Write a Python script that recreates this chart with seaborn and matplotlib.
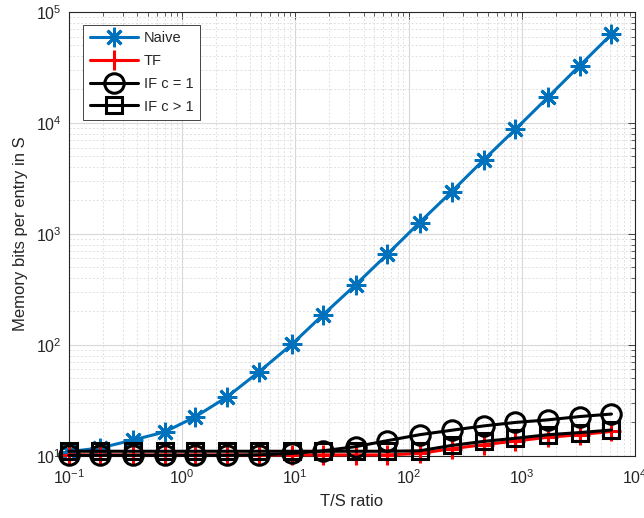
import numpy as np
import pandas as pd
import matplotlib
matplotlib.use("Agg")
import matplotlib.pyplot as plt
import seaborn as sns
from matplotlib.ticker import LogLocator, NullFormatter

# ---- data ----
ts_ratio = [0.1, 0.19, 0.37, 0.7, 1.3, 2.5, 4.8, 9.3, 17.5, 34, 65, 125,
            240, 460, 880, 1700, 3250, 6200]
naive = [10.9, 11.8, 13.9, 16.4, 22.4, 34, 57.4, 101, 186, 347, 656, 1265,
         2400, 4640, 8770, 17000, 32800, 63000]
tf = [10.2, 10.2, 10.2, 10.2, 10.2, 10.2, 10.2, 10.2, 10.2, 10.2, 10.2, 10.5,
      11.6, 12.6, 13.6, 14.7, 15.5, 16.6]
if_c1 = [10.1, 10.1, 10.1, 10.1, 10.1, 10.1, 10.2, 10.5, 11.1, 12.1, 13.7, 15.5,
         17.0, 18.6, 20.0, 21.1, 22.6, 23.8]
if_cgt1 = [11.0, 11.0, 11.0, 11.0, 11.0, 11.0, 11.0, 11.0, 11.0, 11.0, 11.0, 11.1,
           12.4, 13.5, 14.4, 15.5, 16.2, 17.1]

series_names = ["Naive", "TF", "IF c = 1", "IF c > 1"]
series_vals = [naive, tf, if_c1, if_cgt1]

df = pd.DataFrame({
    "x": ts_ratio * 4,
    "y": naive + tf + if_c1 + if_cgt1,
    "series": sum([[n] * len(ts_ratio) for n in series_names], []),
})

sns.set_style("white")
plt.rcParams["font.family"] = ["Liberation Sans", "DejaVu Sans"]
plt.rcParams["mathtext.fontset"] = "custom"
plt.rcParams["mathtext.rm"] = "Liberation Sans"
plt.rcParams["mathtext.it"] = "Liberation Sans:italic"

fig = plt.figure(figsize=(6.44, 5.18), dpi=100)
ax = fig.add_axes([0.107, 0.120, 0.879, 0.857])

styles = {
    "Naive": dict(color="#0072BD", marker=(8, 2, 0), markersize=14, mew=2.0,
                  mfc="#0072BD", mec="#0072BD"),
    "TF": dict(color="#FF0000", marker="+", markersize=14, mew=2.2,
               mfc="#FF0000", mec="#FF0000"),
    "IF c = 1": dict(color="black", marker="o", markersize=14, mew=2.2,
                     mfc="none", mec="black"),
    "IF c > 1": dict(color="black", marker="s", markersize=11.5, mew=2.2,
                     mfc="none", mec="black"),
}

for name in series_names:
    sub = df[df["series"] == name]
    st = styles[name]
    sns.lineplot(data=sub, x="x", y="y", ax=ax, label=name, linewidth=2.2,
                 estimator=None, sort=False, clip_on=False, zorder=3, **st)

ax.set_xscale("log")
ax.set_yscale("log")
ax.set_xlim(0.1, 1e4)
ax.set_ylim(10, 1e5)

ax.xaxis.set_major_locator(LogLocator(base=10, numticks=20))
ax.xaxis.set_minor_locator(LogLocator(base=10, subs=np.arange(2, 10), numticks=50))
ax.yaxis.set_major_locator(LogLocator(base=10, numticks=20))
ax.yaxis.set_minor_locator(LogLocator(base=10, subs=np.arange(2, 10), numticks=50))
ax.xaxis.set_minor_formatter(NullFormatter())
ax.yaxis.set_minor_formatter(NullFormatter())

ax.grid(True, which="major", color="#d8d8d8", linewidth=0.8, linestyle="-", zorder=0)
ax.grid(True, which="minor", color="#e0e0e0", linewidth=0.7, linestyle=(0, (2, 2)), zorder=0)
ax.set_axisbelow(True)

ax.tick_params(which="both", direction="in", top=True, right=True,
               colors="#262626", labelsize=11.5, labelcolor="#262626")
ax.tick_params(which="major", length=5, width=0.6)
ax.tick_params(axis="x", which="major", pad=9)
ax.tick_params(axis="y", which="major", pad=5)
ax.tick_params(which="minor", length=3, width=0.5)
for sp in ax.spines.values():
    sp.set_color("#262626")
    sp.set_linewidth(0.8)

ax.set_xlabel("T/S ratio", fontsize=12, color="#262626", labelpad=5)
ax.set_ylabel("Memory bits per entry in S", fontsize=12, color="#262626", labelpad=6)

leg = ax.legend(loc="upper left", bbox_to_anchor=(0.025, 0.971), borderaxespad=0,
                fontsize=10.5, handlelength=3.3, labelspacing=0.6, borderpad=0.45,
                handletextpad=0.4, frameon=True, fancybox=False,
                edgecolor="#262626", framealpha=1.0)
leg.get_frame().set_linewidth(0.6)

fig.savefig("out.png", dpi=100)
